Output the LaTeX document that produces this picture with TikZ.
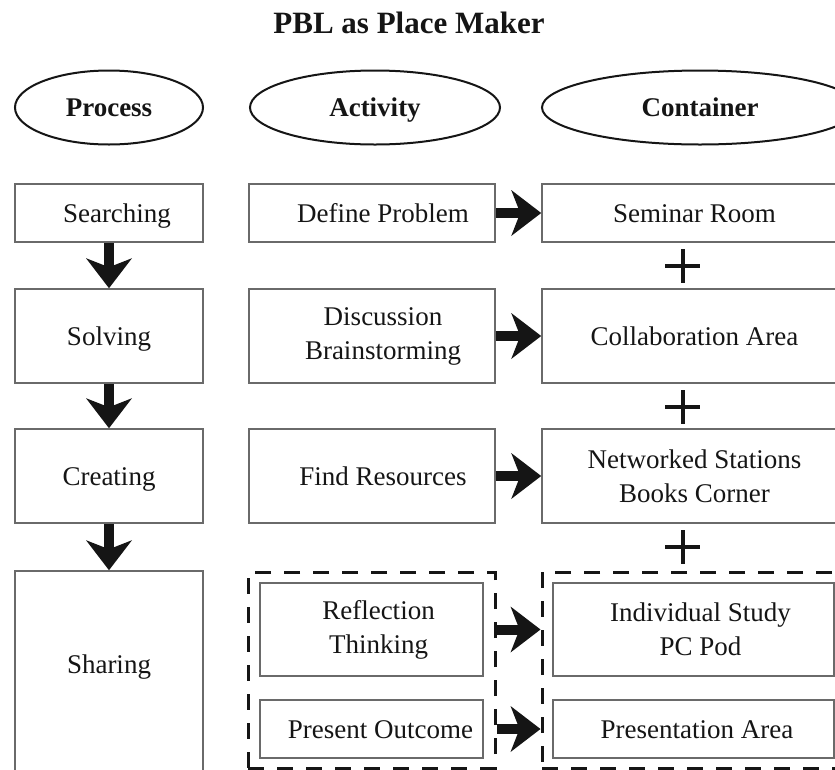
\documentclass[tikz,border=0pt]{standalone}
\usepackage{fontspec}
\setmainfont{Liberation Serif}
\usetikzlibrary{arrows.meta,shapes.geometric}
\definecolor{boxline}{HTML}{6A6A6A}
\definecolor{ink}{HTML}{151515}
% push a line of box text to the right by half the given amount
\newcommand{\nudge}[1]{\hspace*{#1}}

\begin{document}
\begin{tikzpicture}[x=1pt,y=-1pt,
  every node/.style={text=ink},
  body/.style={font=\fontsize{27}{34}\selectfont},
  cell/.style={draw=boxline, line width=1.6pt, body, align=center, inner sep=0pt},
  oneline/.style={text height=18.5pt, text depth=0pt},
  head/.style={ellipse, draw=ink, line width=2pt, inner sep=0pt,
    minimum height=74pt, text height=17.5pt, text depth=0pt,
    font=\fontsize{27}{30}\selectfont\bfseries},
  group/.style={draw=ink, line width=3pt, dash pattern=on 16pt off 13pt, inner sep=0pt},
  bigarrow/.style={draw=ink, line width=10pt,
    -{Stealth[length=30pt,width=46pt,inset=9pt,line width=0pt]}},
  plus/.style={draw=ink, line width=4pt},
]
\path[use as bounding box, clip] (0,0) rectangle (835,769);

% title
\node[anchor=base, font=\fontsize{31}{34}\selectfont\bfseries] (title) at (409,33) {PBL as Place Maker};

% column headers
\node[head, minimum width=188pt] (hproc) at (109,107.5) {Process};
\node[head, minimum width=250pt] (hact)  at (375,107.5) {Activity};
\node[head, minimum width=316pt] (hcont) at (700,107.5) {Container};

% process column
\node[cell, oneline, minimum width=188pt, minimum height=58pt] (search) at (109,213) {\nudge{16pt}Searching};
\node[cell, oneline, minimum width=188pt, minimum height=94pt] (solve)  at (109,336) {Solving};
\node[cell, oneline, minimum width=188pt, minimum height=94pt] (create) at (109,476) {Creating};
\node[cell, text height=18.5pt, text depth=22pt, minimum width=188pt, minimum height=208pt] (share) at (109,675) {Sharing};

% activity column
\node[cell, oneline, minimum width=246pt, minimum height=58pt] (define)  at (372,213) {\nudge{22pt}Define Problem};
\node[cell, minimum width=246pt, minimum height=94pt] (discuss) at (372,336) {\nudge{22pt}Discussion\\\nudge{22pt}Brainstorming};
\node[cell, oneline, minimum width=246pt, minimum height=94pt] (find)    at (372,476) {\nudge{22pt}Find Resources};
\node[group, minimum width=247pt, minimum height=196pt] (agrp) at (371.5,670) {};
\node[cell, minimum width=223pt, minimum height=93pt] (reflect) at (371.5,629.5) {\nudge{14pt}Reflection\\\nudge{14pt}Thinking};
\node[cell, oneline, minimum width=223pt, minimum height=58pt] (present) at (371.5,729) {\nudge{18pt}Present Outcome};

% container column
\node[cell, oneline, minimum width=305pt, minimum height=58pt] (seminar) at (694.5,213) {Seminar Room};
\node[cell, oneline, minimum width=305pt, minimum height=94pt] (collab)  at (694.5,336) {Collaboration Area};
\node[cell, minimum width=305pt, minimum height=94pt] (network) at (694.5,476) {Networked Stations\\Books Corner};
\node[group, minimum width=308pt, minimum height=196pt] (cgrp) at (696,670) {};
\node[cell, minimum width=281pt, minimum height=93pt] (indiv) at (693.5,629.5) {\nudge{14pt}Individual Study\\\nudge{14pt}PC Pod};
\node[cell, oneline, minimum width=281pt, minimum height=58pt] (presarea) at (693.5,729) {\nudge{7pt}Presentation Area};

% process flow
\draw[bigarrow] (search.south) -- (solve.north);
\draw[bigarrow] (solve.south) -- (create.north);
\draw[bigarrow] (create.south) -- (share.north);

% activity to container
\draw[bigarrow] (define.east) -- (seminar.west);
\draw[bigarrow] (discuss.east) -- (collab.west);
\draw[bigarrow] (find.east) -- (network.west);
\draw[bigarrow] (agrp.east |- reflect.east) -- (cgrp.west |- indiv.west);
\draw[bigarrow] (agrp.east |- present.east) -- (cgrp.west |- presarea.west);

% containers add up
\coordinate (p1) at (682.5,266);
\coordinate (p2) at (682.5,407);
\coordinate (p3) at (682.5,547);
\foreach \p in {p1,p2,p3}
  \draw[plus] (\p) ++(-17.5,0) -- ++(35,0) (\p) ++(0,-17) -- ++(0,34);
\end{tikzpicture}
\end{document}
